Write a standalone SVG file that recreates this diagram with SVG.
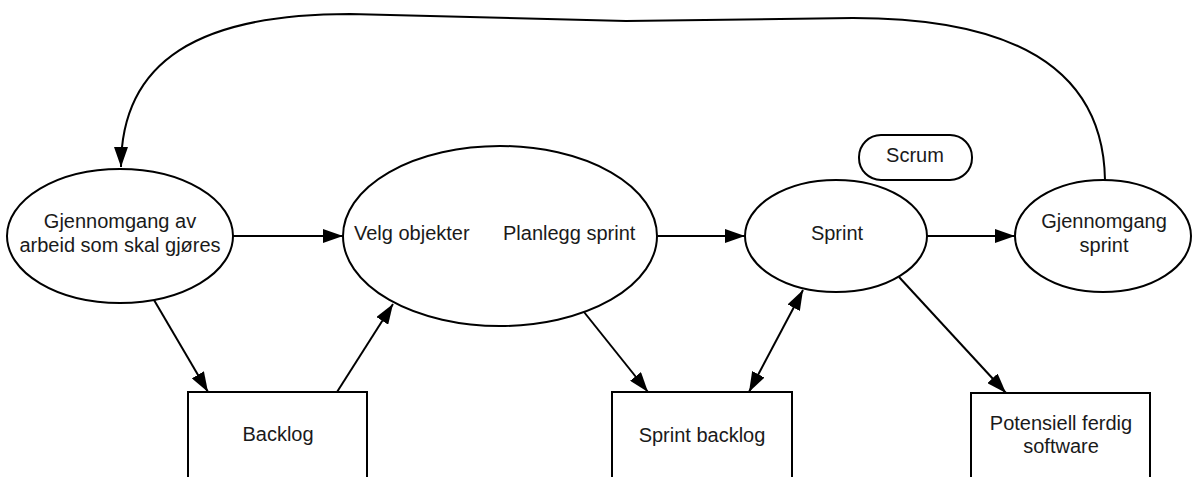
<svg xmlns="http://www.w3.org/2000/svg" width="1192" height="477" viewBox="0 0 1192 477">
  <style>
    .shape { fill: #ffffff; stroke: #000000; stroke-width: 2; }
    .edge { fill: none; stroke: #000000; stroke-width: 2; }
    .label { font-family: "Liberation Sans", Arial, sans-serif; font-size: 20px; fill: #1a1a1a; }
    .mid { text-anchor: middle; }
  </style>
  <defs>
    <marker id="arrow" markerUnits="userSpaceOnUse" markerWidth="20" markerHeight="14" refX="20" refY="7" orient="auto-start-reverse">
      <path d="M0,0 L20,7 L0,14 Z" fill="#000000"/>
    </marker>
  </defs>
  <rect x="0" y="0" width="1192" height="477" fill="#ffffff"/>

  <!-- connectors -->
  <g id="connectors">
    <path class="edge" d="M233,236 L343,236" marker-end="url(#arrow)"/>
    <path class="edge" d="M658,236 L745,236" marker-end="url(#arrow)"/>
    <path class="edge" d="M927,236 L1015,236" marker-end="url(#arrow)"/>
    <path class="edge" d="M154,300 L208,392" marker-end="url(#arrow)"/>
    <path class="edge" d="M337,392 L393,304" marker-end="url(#arrow)"/>
    <path class="edge" d="M584,312 L648,392" marker-end="url(#arrow)"/>
    <path class="edge" d="M749,392 L803,290" marker-start="url(#arrow)" marker-end="url(#arrow)"/>
    <path class="edge" d="M899,277 L1006,393" marker-end="url(#arrow)"/>
    <path class="edge" d="M1105,180 C1103,60 1000,18 853,18 L626,21 L350,14 C200,14 121,60 121,167" marker-end="url(#arrow)"/>
  </g>

  <g id="review-work">
    <ellipse class="shape" cx="120" cy="236" rx="113" ry="67"/>
    <text class="label mid" x="120" y="228">Gjennomgang av</text>
    <text class="label mid" x="120" y="252">arbeid som skal gjøres</text>
  </g>

  <g id="plan">
    <ellipse class="shape" cx="500" cy="236" rx="157" ry="90"/>
    <text class="label" x="354" y="240">Velg objekter</text>
    <text class="label" x="503" y="240">Planlegg sprint</text>
  </g>

  <g id="sprint">
    <ellipse class="shape" cx="836" cy="236" rx="91" ry="56"/>
    <text class="label mid" x="837" y="240">Sprint</text>
  </g>

  <g id="scrum">
    <rect class="shape" x="859" y="135" width="113" height="45" rx="22" ry="22"/>
    <text class="label mid" x="915" y="162">Scrum</text>
  </g>

  <g id="sprint-review">
    <ellipse class="shape" cx="1103" cy="236" rx="88" ry="56"/>
    <text class="label mid" x="1104" y="228">Gjennomgang</text>
    <text class="label mid" x="1104" y="252">sprint</text>
  </g>

  <g id="backlog">
    <rect class="shape" x="188" y="392" width="179" height="120"/>
    <text class="label mid" x="278" y="441">Backlog</text>
  </g>

  <g id="sprint-backlog">
    <rect class="shape" x="612" y="392" width="180" height="120"/>
    <text class="label mid" x="702" y="442">Sprint backlog</text>
  </g>

  <g id="increment">
    <rect class="shape" x="971" y="393" width="179" height="120"/>
    <text class="label mid" x="1061" y="430">Potensiell ferdig</text>
    <text class="label mid" x="1061" y="453">software</text>
  </g>
</svg>
